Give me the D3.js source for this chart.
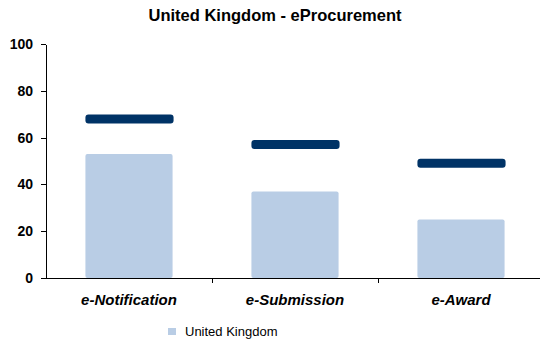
<!DOCTYPE html>
<html>
<head>
<meta charset="utf-8">
<script src="https://cdn.jsdelivr.net/npm/d3@7"></script>
<style>
  body { margin: 0; background: #fff; }
  svg { font-family: "Liberation Sans", Arial, sans-serif; }
  .yaxis text { font-size: 14px; font-weight: bold; fill: #000; }
  .yaxis path, .yaxis line { stroke: #000; shape-rendering: crispEdges; }
</style>
</head>
<body>
<svg id="chart" width="540" height="340"></svg>
<script>
var categories = ["e-Notification", "e-Submission", "e-Award"];
var ukValues = [53, 37, 25];
var targetValues = [68, 57, 49];
var yTicks = [0, 20, 40, 60, 80, 100];

var svg = d3.select("#chart");
var plotLeft = 46, plotRight = 544, plotTop = 44, plotBottom = 278;

var xScale = d3.scaleBand()
    .domain(categories)
    .range([plotLeft, plotRight]);
var yScale = d3.scaleLinear()
    .domain([0, 100])
    .range([plotBottom, plotTop]);

var barW = xScale.bandwidth() * 0.525;

/* title */
svg.append("text")
    .attr("x", 275).attr("y", 21)
    .attr("text-anchor", "middle")
    .style("font-size", "16.5px").style("font-weight", "bold")
    .text("United Kingdom - eProcurement");

/* bars */
svg.append("g").selectAll("rect")
    .data(ukValues)
    .enter().append("rect")
    .attr("x", function(d, i) { return xScale(categories[i]) + (xScale.bandwidth() - barW) / 2; })
    .attr("y", function(d) { return yScale(d); })
    .attr("width", barW)
    .attr("height", function(d) { return plotBottom - yScale(d); })
    .attr("rx", 2)
    .attr("fill", "#b9cde5");

/* target markers */
svg.append("g").selectAll("rect")
    .data(targetValues)
    .enter().append("rect")
    .attr("x", function(d, i) { return xScale(categories[i]) + (xScale.bandwidth() - barW) / 2; })
    .attr("y", function(d) { return yScale(d) - 4.5; })
    .attr("width", barW + 1)
    .attr("height", 9)
    .attr("rx", 3)
    .attr("fill", "#003366");

/* y axis */
svg.append("g")
    .attr("class", "yaxis")
    .attr("transform", "translate(" + plotLeft + ",0)")
    .call(d3.axisLeft(yScale).tickValues(yTicks).tickSize(5).tickPadding(8).tickSizeOuter(0));

/* x axis */
var xg = svg.append("g").style("shape-rendering", "crispEdges");
xg.append("line")
    .attr("x1", plotLeft - 5).attr("x2", 540)
    .attr("y1", plotBottom).attr("y2", plotBottom)
    .attr("stroke", "#000");
xg.selectAll("line.tick")
    .data(categories.slice(1))
    .enter().append("line")
    .attr("class", "tick")
    .attr("x1", function(d) { return xScale(d); })
    .attr("x2", function(d) { return xScale(d); })
    .attr("y1", plotBottom).attr("y2", plotBottom + 5)
    .attr("stroke", "#000");
xg.selectAll("text")
    .data(categories)
    .enter().append("text")
    .attr("x", function(d) { return xScale(d) + xScale.bandwidth() / 2; })
    .attr("y", 305)
    .attr("text-anchor", "middle")
    .style("font-size", "15px").style("font-weight", "bold").style("font-style", "italic")
    .text(function(d) { return d; });

/* legend */
var lg = svg.append("g").attr("transform", "translate(168,328)");
lg.append("rect").attr("width", 8).attr("height", 7).attr("fill", "#b9cde5");
lg.append("text")
    .attr("x", 17).attr("y", 8)
    .style("font-size", "13px")
    .text("United Kingdom");
</script>
</body>
</html>
